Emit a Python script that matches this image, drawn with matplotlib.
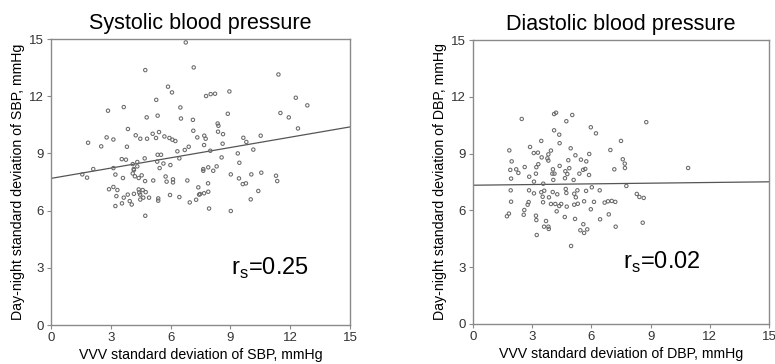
import matplotlib
matplotlib.use("Agg")
import matplotlib.pyplot as plt
import numpy as np

plt.rcParams['font.family'] = ['Liberation Sans', 'DejaVu Sans']

# ---- Systolic panel data ----
sbp_x = [6.76, 4.73, 7.16, 5.87, 6.07, 5.28, 2.86, 3.65, 6.49, 4.80, 5.35, 6.52, 7.12, 3.86, 7.14,
         5.10, 5.42, 4.25, 4.48, 4.82, 5.27, 5.69, 5.94, 6.09, 6.24, 7.34, 1.86, 2.52, 2.79, 3.13,
         3.81, 6.34, 6.71, 6.91, 3.55, 3.76, 4.70, 5.35, 5.52, 6.44, 4.10, 4.33, 4.33, 5.33, 5.64,
         5.99, 2.12, 3.13, 4.15, 5.45,
         4.72, 1.57, 1.81, 3.23, 3.61, 4.10, 4.16, 4.21, 4.40, 4.55, 5.13, 5.75, 5.80, 6.12, 6.12,
         6.84, 7.39, 2.91, 3.13, 3.33, 3.28, 3.65, 3.85, 4.16, 4.40, 4.43, 4.60, 4.75, 4.47, 4.48,
         4.63, 4.92, 3.56, 3.95, 4.05, 3.23, 5.38, 5.38, 5.97, 6.44, 6.96, 7.28, 7.43, 4.73,
         11.41, 7.78, 8.01, 8.23, 8.95, 12.28, 12.86, 8.87, 11.51, 11.93, 8.36, 8.40, 8.38, 12.39,
         7.69, 7.76, 8.63, 9.65, 10.52, 9.80, 7.68, 8.61, 7.99, 10.15, 9.37, 8.56, 9.45, 7.89,
         8.31, 7.64,
         7.64, 8.14, 7.88, 9.02, 9.43, 9.62, 9.78, 10.05, 10.55, 11.29, 11.35, 10.40, 10.02, 7.48,
         7.68, 7.89, 7.93, 9.02]
sbp_y = [14.82, 13.37, 13.51, 12.50, 12.20, 11.81, 11.24, 11.43, 11.41, 10.89, 10.98, 10.83, 10.76,
         10.28, 10.19, 10.03, 10.12, 9.95, 9.77, 9.77, 9.81, 9.89, 9.81, 9.72, 9.65, 9.84, 9.56,
         9.37, 9.84, 9.73, 9.35, 9.11, 9.18, 9.35, 8.70, 8.67, 8.74, 8.93, 8.93, 8.74, 8.44, 8.55,
         8.32, 8.57, 8.47, 8.39, 8.18, 8.23, 8.18, 8.23,
         7.55, 7.90, 7.73, 7.89, 7.71, 7.95, 8.13, 7.80, 7.71, 7.85, 7.58, 7.79, 7.52, 7.64, 7.48,
         7.58, 7.22, 7.12, 7.24, 7.08, 6.76, 6.68, 6.84, 6.88, 7.11, 6.95, 7.08, 6.97, 6.84, 6.58,
         6.68, 6.68, 6.38, 6.50, 6.32, 6.24, 6.64, 6.52, 6.82, 6.71, 6.43, 6.57, 6.84, 5.73,
         13.14, 12.01, 12.11, 12.13, 12.25, 11.92, 11.52, 11.08, 11.12, 10.89, 10.57, 10.45, 10.14,
         10.31, 9.93, 9.77, 10.01, 9.82, 9.93, 9.60, 9.44, 9.51, 9.14, 9.20, 9.00, 8.79, 8.51,
         8.27, 8.32, 8.18,
         8.09, 8.09, 7.43, 7.90, 7.69, 7.39, 7.43, 7.90, 7.99, 7.83, 7.55, 7.03, 6.59, 6.87, 6.91,
         6.99, 6.11, 5.98]
sbp_line = [7.69, 0.180]   # intercept, slope
sbp_rs = "0.25"

# ---- Diastolic panel data ----
dbp_x = [2.47, 4.11, 4.21, 5.03, 4.73, 4.11, 4.37, 5.97, 6.23, 3.46, 4.39, 7.50, 1.84, 2.89, 3.08,
         3.29, 3.95, 4.95, 3.82, 3.48, 5.19, 5.89, 6.96, 1.96, 3.77, 3.82, 4.83, 5.47, 5.74, 7.59,
         7.69, 7.70, 3.31, 2.62, 3.21, 4.39, 1.89, 2.19, 2.30, 4.05, 4.68, 4.88, 5.39, 5.58, 5.69,
         7.16, 4.02, 4.13, 2.85, 3.19, 1.93, 4.66, 5.88, 4.78,
         8.78, 10.90,
         3.09, 3.56, 4.07, 5.10, 1.91, 2.84, 3.09, 3.46, 3.61, 4.04, 4.27, 4.70, 4.73, 5.13, 5.29,
         5.73, 6.02, 6.42, 7.77, 5.21, 3.53, 3.85, 1.93, 2.77, 2.82, 3.55, 3.95, 4.17, 4.37, 4.47,
         4.75, 5.13, 5.31, 5.63, 6.13, 6.67, 6.84, 7.03, 7.21, 2.60, 4.24, 5.97, 1.82, 1.72, 2.57,
         3.19, 4.65, 6.88, 3.21, 3.70, 5.17, 6.44, 3.60, 3.82, 3.84, 5.59, 5.44, 5.79, 5.63, 7.23,
         3.23, 4.97,
         8.30, 8.43, 8.65, 8.60]
dbp_y = [10.83, 11.09, 11.16, 11.04, 10.71, 10.23, 10.00, 10.39, 10.07, 9.67, 9.55, 9.67, 9.17, 9.35,
         9.03, 9.05, 9.16, 9.28, 8.96, 8.80, 8.91, 8.98, 9.19, 8.59, 8.75, 8.63, 8.65, 8.68, 8.59,
         8.70, 8.47, 8.24, 8.44, 8.29, 8.28, 8.35, 8.14, 8.17, 7.98, 8.17, 8.07, 8.23, 7.94, 8.14,
         8.19, 8.17, 7.94, 7.94, 7.78, 7.94, 7.68, 7.70, 7.87, 7.92,
         10.66, 8.24,
         7.52, 7.41, 7.61, 7.61, 7.06, 7.06, 6.90, 6.96, 7.04, 6.97, 6.85, 7.13, 6.92, 6.88, 7.06,
         7.03, 7.22, 7.06, 7.29, 6.69, 6.72, 6.69, 6.46, 6.30, 6.44, 6.43, 6.34, 6.34, 6.23, 6.34,
         6.20, 6.30, 6.35, 6.48, 6.45, 6.41, 6.48, 6.50, 6.45, 6.02, 5.95, 6.06, 5.83, 5.69, 5.77,
         5.72, 5.65, 5.79, 5.49, 5.44, 5.55, 5.53, 5.14, 5.14, 5.02, 5.27, 4.95, 5.00, 4.81, 5.14,
         4.70, 4.12,
         6.87, 6.71, 6.66, 5.35]
dbp_line = [7.33, 0.012]
dbp_rs = "0.02"

ticks = [0, 3, 6, 9, 12, 15]

fig = plt.figure(figsize=(7.75, 3.64), dpi=100)
ax1 = fig.add_axes([0.0658, 0.1071, 0.3858, 0.7857])
ax2 = fig.add_axes([0.6103, 0.1099, 0.3820, 0.7802])

panels = [
    (ax1, sbp_x, sbp_y, sbp_line, sbp_rs, "Systolic blood pressure",
     "VVV standard deviation of SBP, mmHg", "Day-night standard deviation of SBP, mmHg", (9.05, 2.65)),
    (ax2, dbp_x, dbp_y, dbp_line, dbp_rs, "Diastolic blood pressure",
     "VVV standard deviation of DBP, mmHg", "Day-night standard deviation of DBP, mmHg", (7.6, 2.9)),
]

for ax, xs, ys, line, rs, title, xl, yl, tpos in panels:
    ax.scatter(xs, ys, s=6, facecolors='none', edgecolors='#686868', linewidths=0.75, zorder=3)
    lx = np.array([0, 15])
    ax.plot(lx, line[0] + line[1] * lx, color='#555555', lw=0.9, zorder=2)
    ax.set_xlim(0, 15)
    ax.set_ylim(0, 15)
    ax.set_xticks(ticks)
    ax.set_yticks(ticks)
    for sp in ax.spines.values():
        sp.set_color('#8a8a8a')
        sp.set_linewidth(1.0)
    ax.tick_params(direction='out', length=3, width=0.8, color='#8a8a8a',
                   labelsize=9.5, labelcolor='#333333', pad=2)
    ax.set_title(title, fontsize=15.5, pad=7)
    ax.set_xlabel(xl, fontsize=10.2, labelpad=3)
    ax.set_ylabel(yl, fontsize=10.2, labelpad=3)
    ax.text(tpos[0], tpos[1], r"r$_\mathregular{s}$=" + rs, fontsize=17, ha='left', va='baseline')

fig.savefig("out.png", dpi=100)
